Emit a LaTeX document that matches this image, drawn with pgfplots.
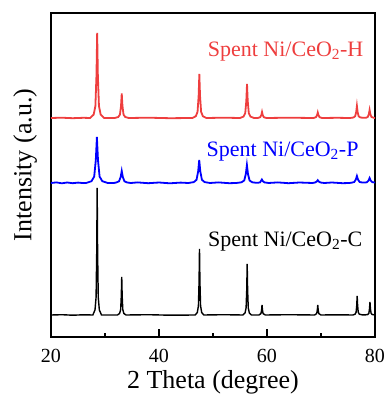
\documentclass[border=0pt]{standalone}
\usepackage{pgfplots}
\pgfplotsset{compat=1.18}
\usepackage{fontspec}
\setmainfont{Liberation Serif}
\definecolor{myred}{RGB}{238,62,62}
\definecolor{myblue}{RGB}{0,0,255}
\begin{document}
\begin{tikzpicture}
\path[use as bounding box] (-51pt,-63pt) rectangle (336pt,337pt);
\begin{axis}[
  scale only axis, width=324pt, height=324pt,
  xmin=20, xmax=80, ymin=63, ymax=387,
  xtick={20,40,60,80}, xticklabels={20,40,60,80}, minor xtick={30,50,70},
  ytick=\empty,
  tick align=inside, xtick pos=bottom,
  major tick length=8pt, minor tick length=4.5pt,
  axis line style={line width=1.1pt},
  every tick/.style={line width=1.1pt, black},
  xticklabel style={font=\fontsize{20}{24}\selectfont, anchor=base, yshift=-25pt},
  xlabel={2 Theta (degree)},
  ylabel={Intensity (a.u.)},
  xlabel style={font=\fontsize{26}{30}\selectfont, at={(axis description cs:0.5,0)}, anchor=base, yshift=-51pt},
  ylabel style={font=\fontsize{26}{30}\selectfont, at={(axis description cs:-0.08,0.531)}, anchor=center},
  clip=false,
]
% black (C)
\addplot[black, line width=1.4pt] coordinates {
(20,85) (22,85.3) (24,84.8) (26,85.2)
(27.75,85) (28.15,90.1) (28.35,102.8) (28.47,148.5) (28.55,212) (28.63,148.5) (28.75,102.8) (28.95,90.1) (29.35,85)
(32.3,85) (32.7,86.5) (32.9,90.3) (33.02,104) (33.1,123) (33.18,104) (33.3,90.3) (33.5,86.5) (33.9,85)
(38,85.3) (42,84.8)
(46.7,85) (47.1,87.6) (47.3,94.2) (47.42,118) (47.5,151) (47.58,118) (47.7,94.2) (47.9,87.6) (48.3,85)
(52,85.3)
(55.53,85) (55.93,87) (56.13,92.1) (56.25,110.5) (56.33,136) (56.41,110.5) (56.53,92.1) (56.73,87) (57.13,85)
(58.5,85) (58.88,86.4) (59.0,90) (59.08,95) (59.16,90) (59.28,86.4) (59.7,85)
(64,85.3)
(68.8,85) (69.2,86.4) (69.32,90) (69.4,95) (69.48,90) (69.6,86.4) (70.0,85)
(73,85.2)
(75.9,85) (76.3,85.8) (76.5,87.7) (76.62,94.5) (76.7,104) (76.78,94.5) (76.9,87.7) (77.1,85.8) (77.6,85.2)
(78.3,85.2) (78.67,85.5) (78.87,86.8) (78.99,91.5) (79.07,98) (79.15,91.5) (79.27,86.8) (79.47,85.5) (80,85)
};
% red (H)
\addplot[myred, line width=1.8pt] coordinates {
(20,282) (22,282.3) (24,281.8) (26,282.2)
(27.25,282) (27.9,285.4) (28.22,293.9) (28.42,324.5) (28.55,367) (28.68,324.5) (28.88,293.9) (29.2,285.4) (29.85,282)
(31.8,282) (32.45,283) (32.77,285.4) (32.97,294.3) (33.1,306.5) (33.23,294.3) (33.43,285.4) (33.75,283) (34.4,282)
(38,282.3) (42,281.8)
(46.17,282) (46.82,283.8) (47.14,288.2) (47.34,304) (47.47,326) (47.6,304) (47.8,288.2) (48.12,283.8) (48.77,282)
(52,282.3)
(55.0,282) (55.65,283.4) (55.97,286.8) (56.17,299) (56.3,316) (56.43,299) (56.63,286.8) (56.95,283.4) (57.6,282)
(58.3,282) (58.75,282.8) (58.95,285) (59.08,288) (59.21,285) (59.41,282.8) (59.9,282)
(64,282.3)
(68.6,282) (69.07,282.8) (69.27,284.8) (69.4,287.5) (69.53,284.8) (69.73,282.8) (70.2,282)
(73,282.2)
(75.35,282) (76.0,282.5) (76.32,283.7) (76.52,288) (76.65,294) (76.78,288) (76.98,283.7) (77.3,282.5) (77.9,282.2)
(78.35,282.3) (78.67,283.1) (78.87,286) (79.0,290) (79.13,286) (79.33,283.1) (79.65,282.4) (80,282)
};
% blue (P)
\addplot[myblue, line width=1.8pt] coordinates {
(20,217) (21,217.6) (22,216.7) (23,217.5) (24,216.8) (25,217.4) (26,216.9)
(26.5,217) (27.5,218.8) (28.0,223.4) (28.3,240) (28.5,263) (28.7,240) (29.0,223.4) (29.5,218.8) (30.5,217)
(31.6,217) (32.1,217.5) (32.6,218.7) (32.9,223) (33.1,229) (33.3,223) (33.6,218.7) (34.1,217.5) (34.8,217)
(36,217.6) (38,216.8) (40,217.5) (42,216.7) (44,217.4)
(45.45,217) (46.45,217.9) (46.95,220.2) (47.25,228.5) (47.45,240) (47.65,228.5) (47.95,220.2) (48.45,217.9) (49.45,217)
(51,217.6) (53,216.8)
(54.28,217) (55.28,217.7) (55.78,219.5) (56.08,226) (56.28,235) (56.48,226) (56.78,219.5) (57.28,217.7) (58.0,217.2)
(58.4,217.3) (58.7,217.6) (58.85,218.7) (59.05,220.5) (59.25,218.7) (59.55,217.6) (60.3,217)
(62,217.6) (64,216.8) (66,217.5)
(68.4,217) (68.9,217.5) (69.2,218.4) (69.4,219.8) (69.6,218.4) (69.9,217.5) (70.6,217)
(72,217.5) (74,216.8)
(75.2,217) (75.65,217.3) (76.15,218) (76.45,220.5) (76.65,224) (76.85,220.5) (77.15,218) (77.65,217.5) (78.0,217.5)
(78.3,217.6) (78.5,217.7) (78.8,219.5) (79.0,222) (79.2,219.5) (79.5,217.9) (80,217.4)
};
\node[anchor=base east, text=myred, font=\fontsize{22}{26}\selectfont] at (axis cs:78.5,343.3) {Spent Ni/CeO\textsubscript{2}-H};
\node[anchor=base east, text=myblue, font=\fontsize{22}{26}\selectfont] at (axis cs:77.6,244) {Spent Ni/CeO\textsubscript{2}-P};
\node[anchor=base east, text=black, font=\fontsize{22}{26}\selectfont] at (axis cs:78.3,154) {Spent Ni/CeO\textsubscript{2}-C};
\end{axis}
\end{tikzpicture}
\end{document}
